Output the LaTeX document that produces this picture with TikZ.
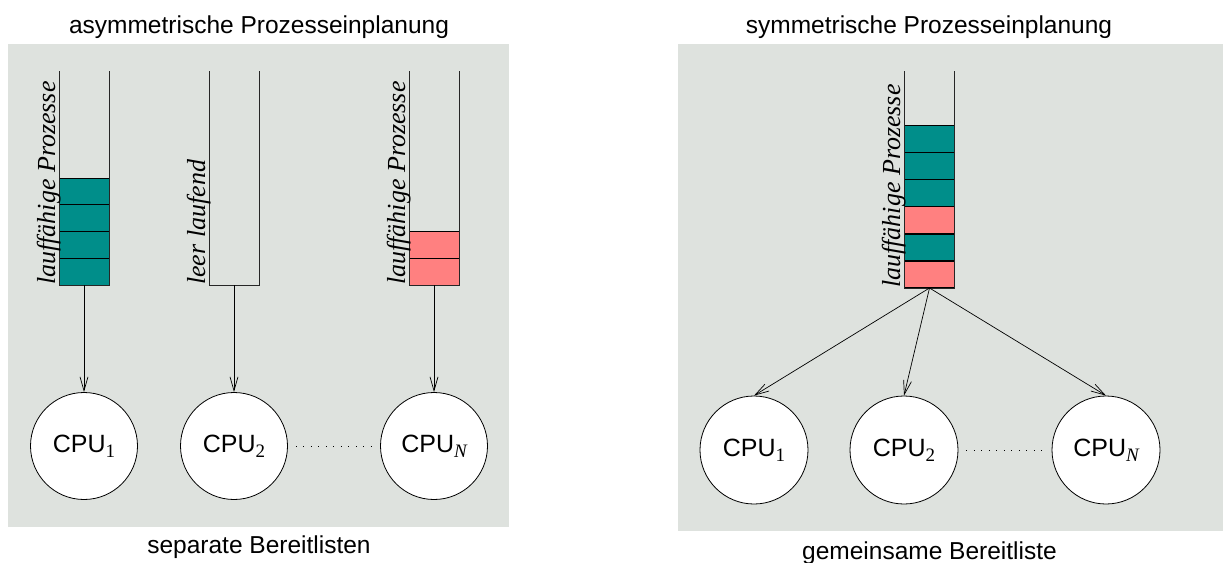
\documentclass[tikz,border=0pt]{standalone}
\usepackage{fontspec}
\setmainfont{Liberation Sans}
\newfontfamily\serif{Liberation Serif}
\usetikzlibrary{arrows.meta, positioning}
\definecolor{panelgray}{RGB}{222,226,222}
\definecolor{tealjob}{RGB}{0,142,138}
\definecolor{pinkjob}{RGB}{255,128,128}
\tikzstyle{panel} = [fill=panelgray, draw=none]
\tikzstyle{heading} = [
    anchor=base,
    inner sep=0pt,
    font=\fontsize{24.5}{28}\selectfont
]
\tikzstyle{wall} = [line width=0.9pt, draw=black!85]
\tikzstyle{job} = [
    rectangle,
    minimum width=50pt,
    minimum height=26.75pt,
    inner sep=0pt,
    draw=black,
    line width=0.9pt
]
\tikzstyle{qlabel} = [
    rotate=90,
    anchor=base west,
    inner sep=0pt,
    font=\fontsize{26}{30}\selectfont\serif\itshape
]
\tikzstyle{cpu} = [
    circle,
    minimum size=107pt,
    inner sep=0pt,
    draw=black,
    fill=white,
    line width=0.8pt,
    font=\fontsize{25}{30}\selectfont
]
\tikzstyle{arrow} = [line width=0.7pt, -{Straight Barb[length=14pt,width=8pt]}]
\tikzstyle{dots} = [line width=1pt, dash pattern=on 1pt off 6.5pt, shorten >=8pt, shorten <=8pt]
\newcommand{\cpusub}[1]{CPU\raisebox{-5pt}{\fontsize{19}{19}\selectfont\serif #1}}

\begin{document}
\begin{tikzpicture}[x=1pt, y=-1pt]
\useasboundingbox (0,0) rectangle (1223,562);

% Panels
\fill[panel] (8,44) rectangle (509,527);
\fill[panel] (678,44) rectangle (1223,531);

% Headings
\node (asymtitle) [heading] at (259,33) {asymmetrische Prozesseinplanung};
\node (asymcap) [heading] at (259,553) {separate Bereitlisten};
\node (symtitle) [heading] at (929,33) {symmetrische Prozesseinplanung};
\node (symcap) [heading] at (929.5,559) {gemeinsame Bereitliste};

% Queues (left)
\coordinate (qa) at (84,285);
\coordinate (qb) at (234,285);
\coordinate (qc) at (434,285);
\foreach \i in {1,...,4}
    \node (a\i) [job, fill=tealjob] at (84,{285-26.75*(\i-0.5)}) {};
\foreach \i in {1,2}
    \node (c\i) [job, fill=pinkjob] at (434,{285-26.75*(\i-0.5)}) {};
\draw[wall] (59,71) |- (109,285) -- (109,71);
\draw[wall] (209,71) |- (259,285) -- (259,71);
\draw[wall] (409,71) |- (459,285) -- (459,71);
\node (la) [qlabel] at (55,285) {lauffähige Prozesse};
\node (lb) [qlabel] at (205,285) {leer laufend};
\node (lc) [qlabel] at (405,285) {lauffähige Prozesse};

% Queue (right)
\coordinate (qs) at (929.5,288);
\foreach \i/\col in {1/pinkjob, 2/tealjob, 3/pinkjob, 4/tealjob, 5/tealjob, 6/tealjob}
    \node (s\i) [job, fill=\col] at (929.5,{288-27.1*(\i-0.5)}) {};
\draw[wall] (904.5,71) |- (954.5,288) -- (954.5,71);
\node (ls) [qlabel] at (900,288) {lauffähige Prozesse};

% CPUs
\node (ca1) [cpu] at (84,446) {\cpusub{1}};
\node (ca2) [cpu] at (234,446) {\cpusub{2}};
\node (ca3) [cpu] at (434,446) {\cpusub{\itshape N}};
\node (cs1) [cpu, minimum size=108pt] at (754,450) {\cpusub{1}};
\node (cs2) [cpu, minimum size=108pt] at (904,450) {\cpusub{2}};
\node (cs3) [cpu, minimum size=108pt] at (1106,450) {\cpusub{\itshape N}};

% Arrows
\draw [arrow] (qa) -- (ca1);
\draw [arrow] (qb) -- (ca2);
\draw [arrow] (qc) -- (ca3);
\draw [arrow] (qs) -- (cs1.north);
\draw [arrow] (qs) -- (cs2.north);
\draw [arrow] (qs) -- (cs3.north);
\draw [dots] (ca2) -- (ca3);
\draw [dots] (cs2) -- (cs3);

\end{tikzpicture}
\end{document}
